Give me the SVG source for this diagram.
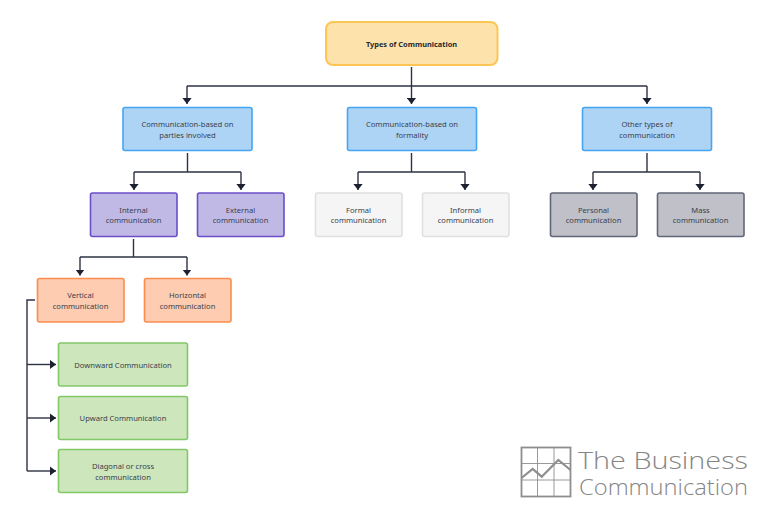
<svg xmlns="http://www.w3.org/2000/svg" width="770" height="515" viewBox="0 0 770 515">
<style>
text{font-family:"Noto Sans","Open Sans","Liberation Sans",sans-serif;font-size:7.600px;fill:#3a3f4c;text-anchor:middle;font-weight:400}
.b rect{stroke-width:1.6}
.root rect{fill:#fde3ab;stroke:#fdc554;stroke-width:2}
.root text{font-weight:700;fill:#26282f;font-size:7.400px}
.blue rect{fill:#aed4f5;stroke:#45a5f3}
.purple rect{fill:#c0b9e6;stroke:#6a4fc9}
.light rect{fill:#f5f5f6;stroke:#e0e0e3}
.grey rect{fill:#bfc0c8;stroke:#626778}
.orange rect{fill:#fdccb1;stroke:#fb8d50}
.green rect{fill:#cde6bc;stroke:#83c868}
.c path{fill:none;stroke:#2e3243;stroke-width:1.4;marker-end:url(#a)}
.c path.n{marker-end:none}
.logo{fill:none;stroke:#8e8e8e}
#logo text{font-family:"Open Sans","Liberation Sans",sans-serif;font-weight:300;fill:#858585;text-anchor:start}
#logo .l1{font-size:23.500px}
#logo .l2{font-size:22.500px}
</style>
<defs>
<marker id="a" markerUnits="userSpaceOnUse" markerWidth="10" markerHeight="10" refX="6" refY="5" orient="auto"><path d="M0 .4L6 5L0 9.600Z" fill="#1d2030"/></marker>
</defs>
<rect width="770" height="515" fill="#fff"/>
<g id="connectors" class="c">
<path class="n" d="M187 86H647"/>
<path d="M411.500 67V104"/>
<path d="M187 86V104"/>
<path d="M647 86V104"/>
<path class="n" d="M187.500 153V172M134 172H241"/>
<path d="M134 172V190"/>
<path d="M241 172V190"/>
<path class="n" d="M411.500 153V172M358 172H465"/>
<path d="M358 172V190"/>
<path d="M465 172V190"/>
<path class="n" d="M647 153V172M593 172H700"/>
<path d="M593 172V190"/>
<path d="M700 172V190"/>
<path class="n" d="M133.500 239V257M80 257H187"/>
<path d="M80 257V275.500"/>
<path d="M187 257V275.500"/>
<path class="n" d="M35 300H27V471"/>
<path d="M27 364.500H56"/>
<path d="M27 418H56"/>
<path d="M27 471H56"/>
</g>
<g id="root" class="b root"><rect x="326" y="22" width="171.500" height="43" rx="7"/><text x="411.500" y="46.500">Types of Communication</text></g>
<g id="n-parties" class="b blue"><rect x="123" y="107.500" width="129" height="43" rx="2"/><text x="187.500" y="127">Communication-based on</text><text x="187.500" y="137.500">parties involved</text></g>
<g id="n-formality" class="b blue"><rect x="347.500" y="107.500" width="129" height="43" rx="2"/><text x="412" y="127">Communication-based on</text><text x="412" y="137.500">formality</text></g>
<g id="n-other" class="b blue"><rect x="582.500" y="107.500" width="129" height="43" rx="2"/><text x="647" y="127">Other types of</text><text x="647" y="137.500">communication</text></g>
<g id="n-internal" class="b purple"><rect x="90.500" y="193" width="86.500" height="43.500" rx="2"/><text x="133.500" y="212.500">Internal</text><text x="133.500" y="223">communication</text></g>
<g id="n-external" class="b purple"><rect x="197.500" y="193" width="86.500" height="43.500" rx="2"/><text x="240.500" y="212.500">External</text><text x="240.500" y="223">communication</text></g>
<g id="n-formal" class="b light"><rect x="315.500" y="193" width="86.500" height="43.500" rx="2"/><text x="358.500" y="212.500">Formal</text><text x="358.500" y="223">communication</text></g>
<g id="n-informal" class="b light"><rect x="422.500" y="193" width="86.500" height="43.500" rx="2"/><text x="465.500" y="212.500">Informal</text><text x="465.500" y="223">communication</text></g>
<g id="n-personal" class="b grey"><rect x="550.500" y="193" width="86.500" height="43.500" rx="2"/><text x="593.500" y="212.500">Personal</text><text x="593.500" y="223">communication</text></g>
<g id="n-mass" class="b grey"><rect x="657.500" y="193" width="86.500" height="43.500" rx="2"/><text x="700.500" y="212.500">Mass</text><text x="700.500" y="223">communication</text></g>
<g id="n-vertical" class="b orange"><rect x="37.500" y="278.500" width="86.500" height="43.500" rx="2"/><text x="80.500" y="298">Vertical</text><text x="80.500" y="308.500">communication</text></g>
<g id="n-horizontal" class="b orange"><rect x="144.500" y="278.500" width="86.500" height="43.500" rx="2"/><text x="187.500" y="298">Horizontal</text><text x="187.500" y="308.500">communication</text></g>
<g id="n-downward" class="b green"><rect x="58.500" y="343" width="129" height="43" rx="2"/><text x="123" y="367.500">Downward Communication</text></g>
<g id="n-upward" class="b green"><rect x="58.500" y="396.500" width="129" height="43" rx="2"/><text x="123" y="420.500">Upward Communication</text></g>
<g id="n-diagonal" class="b green"><rect x="58.500" y="449.500" width="129" height="43" rx="2"/><text x="123" y="469">Diagonal or cross</text><text x="123" y="479.500">communication</text></g>
<g id="logo">
<rect class="logo" x="521.500" y="447.500" width="49" height="49" stroke-width="1.800"/>
<path class="logo" stroke-width=".9" d="M537.500 447.500V496.500M554 447.500V496.500M521.500 463.500H570.500M521.500 480H570.500"/>
<path class="logo" stroke-width="2.200" d="M521.500 478L532.700 469L541.700 476.700L558.300 460L570.500 470"/>
<text class="l1" x="578" y="468.500" textLength="170" lengthAdjust="spacingAndGlyphs">The Business</text>
<text class="l2" x="579" y="494.500" textLength="169" lengthAdjust="spacingAndGlyphs">Communication</text>
</g>
</svg>
